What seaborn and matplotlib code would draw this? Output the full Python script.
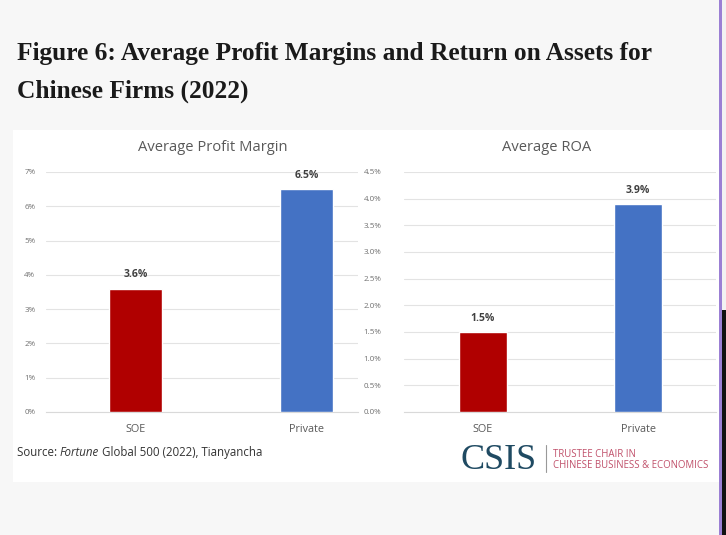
import pandas as pd
import matplotlib
matplotlib.use("Agg")
import matplotlib.pyplot as plt
import seaborn as sns
from matplotlib.patches import Rectangle
from matplotlib.ticker import FuncFormatter

sns.set_theme(style="white")
plt.rcParams['font.family'] = ['Open Sans', 'DejaVu Sans']

# data
firm_types = ['SOE', 'Private']
profit_margin = [3.6, 6.5]
roa = [1.5, 3.9]
bar_colors = ['#B00000', '#4472C4']

pm_df = pd.DataFrame({'type': firm_types, 'value': profit_margin})
roa_df = pd.DataFrame({'type': firm_types, 'value': roa})

fig = plt.figure(figsize=(7.26, 5.35), dpi=100)
fig.patch.set_facecolor('#f7f7f7')

# white panel behind the charts
fig.patches.append(Rectangle((0.018, 0.10), 0.972, 0.657, transform=fig.transFigure,
                             facecolor='white', edgecolor='none', zorder=-5))
# right screen edge
fig.patches.append(Rectangle((0.990, 0.0), 0.004, 1.0, transform=fig.transFigure,
                             facecolor='#9b7fd4', edgecolor='none', zorder=-5))
fig.patches.append(Rectangle((0.994, 0.0), 0.006, 0.42, transform=fig.transFigure,
                             facecolor='#111111', edgecolor='none', zorder=-5))
fig.patches.append(Rectangle((0.994, 0.42), 0.006, 0.58, transform=fig.transFigure,
                             facecolor='#f2f2f2', edgecolor='none', zorder=-5))

ax1 = fig.add_axes([0.064, 0.23, 0.429, 0.4486])
ax2 = fig.add_axes([0.556, 0.23, 0.430, 0.4486])

grey = '#595959'
panels = [
    (ax1, pm_df, 'Average Profit Margin', 7, 1, lambda v, p: f'{v:.0f}%',
     (-0.52, 1.30), 0.533, 8),
    (ax2, roa_df, 'Average ROA', 4.5, 0.5, lambda v, p: f'{v:.1f}%',
     (-0.51, 1.50), 0.457, 16),
]

for ax, df, title, ymax, step, fmt, xlim, title_x, ypad in panels:
    sns.barplot(data=df, x='type', y='value', hue='type', palette=bar_colors,
                saturation=1, width=0.31, legend=False, ax=ax, zorder=3)
    ax.set_facecolor('none')
    ax.set_ylim(0, ymax)
    ax.set_xlim(*xlim)
    ticks = [i * step for i in range(int(round(ymax / step)) + 1)]
    ax.set_yticks(ticks)
    ax.yaxis.set_major_formatter(FuncFormatter(fmt))
    ax.grid(axis='y', color='#e3e3e3', linewidth=0.8, zorder=0)
    for s in ['top', 'right', 'left']:
        ax.spines[s].set_visible(False)
    ax.spines['bottom'].set_color('#d9d9d9')
    ax.spines['bottom'].set_linewidth(0.8)
    ax.tick_params(axis='y', labelsize=5.8, colors='#6f6f6f', length=0, pad=ypad)
    ax.tick_params(axis='x', labelsize=7.8, colors=grey, length=0, pad=9)
    ax.set_xlabel('')
    ax.set_ylabel('')
    ax.set_title(title, fontsize=10.6, color=grey, pad=15, x=title_x)
    for container in ax.containers:
        ax.bar_label(container, fmt='%.1f%%', fontsize=7.5, fontweight='bold',
                     color='#404040', padding=6)

fig.text(0.023, 0.900, 'Figure 6: Average Profit Margins and Return on Assets for',
         fontsize=18.3, fontweight='bold', family='Liberation Serif', color='#1a1a1a',
         va='center')
fig.text(0.023, 0.830, 'Chinese Firms (2022)',
         fontsize=18.3, fontweight='bold', family='Liberation Serif', color='#1a1a1a',
         va='center')

# source line, pieces placed one after the other
fig.canvas.draw()
renderer = fig.canvas.get_renderer()
x = 0.023
for piece, st in [('Source: ', 'normal'), ('Fortune', 'italic'),
                  (' Global 500 (2022), Tianyancha', 'normal')]:
    t = fig.text(x, 0.155, piece, fontsize=8.3, color='#333333', va='center', style=st)
    bb = t.get_window_extent(renderer=renderer)
    x += bb.width / fig.bbox.width

# logo
fig.text(0.634, 0.140, 'CSIS', fontsize=26, family='Liberation Serif', color='#1f4a62',
         va='center')
fig.add_artist(plt.Line2D([0.752, 0.752], [0.118, 0.168], transform=fig.transFigure,
                          color='#999999', linewidth=0.8))
fig.text(0.762, 0.150, 'TRUSTEE CHAIR IN', fontsize=6.9, color='#c0506a', va='center')
fig.text(0.762, 0.130, 'CHINESE BUSINESS & ECONOMICS', fontsize=6.9, color='#c0506a',
         va='center')

fig.savefig('out.png', dpi=100, facecolor=fig.get_facecolor())
